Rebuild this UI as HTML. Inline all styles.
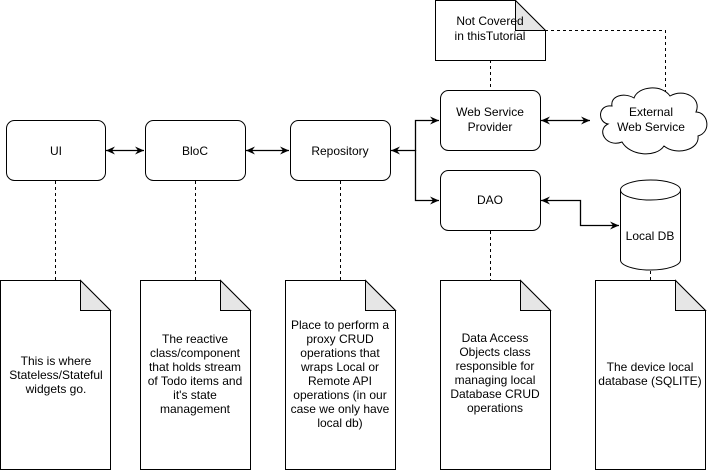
<!DOCTYPE html>
<html><head><style>body{margin:0;background:#fff}svg{display:block}text{font-family:"Liberation Sans",sans-serif;font-size:12px;fill:#000}</style></head><body>
<svg width="711" height="471" viewBox="0 0 711 471">
<defs><marker id="a" markerWidth="10" markerHeight="10" refX="9" refY="5" orient="auto-start-reverse" markerUnits="userSpaceOnUse"><path d="M0,1 L9,5 L0,9 L3,5 Z" fill="#000"/></marker></defs>
<g fill="#fff" stroke="#000" stroke-width="1">
<rect x="6.5" y="120.5" width="99" height="60" rx="8"/>
<rect x="145.5" y="120.5" width="100" height="60" rx="8"/>
<rect x="290.5" y="120.5" width="100" height="60" rx="8"/>
<rect x="440.5" y="90.5" width="100" height="60" rx="8"/>
<rect x="440.5" y="170.5" width="100" height="60" rx="8"/>
</g>
<g stroke="#000" stroke-dasharray="3,3" fill="none">
<path d="M55.5,181 V280 M195.5,181 V280 M340.5,181 V280 M490.5,231 V280 M650.5,271 V280 M490.5,60 V90 M545,30.5 H665.5 V93"/>
</g>
<g stroke="#000" fill="none" stroke-width="1.3">
<path d="M106,150.5 H144" marker-start="url(#a)" marker-end="url(#a)"/>
<path d="M246,150.5 H289" marker-start="url(#a)" marker-end="url(#a)"/>
<path d="M391,150.5 H415.5 V120.5 H439" marker-start="url(#a)" marker-end="url(#a)"/>
<path d="M415.5,150 V200.5 H439" marker-end="url(#a)"/>
<path d="M541,120.5 H590" marker-start="url(#a)" marker-end="url(#a)"/>
<path d="M541,200.5 H580.5 V225.5 H619" marker-start="url(#a)" marker-end="url(#a)"/>
</g>
<path d="M612,106 C598,104 597,122 608,124 C596,130 606,148 622,142 C630,156 656,158 664,146 C676,156 700,150 698,136 C712,132 708,112 696,112 C702,98 684,88 670,96 C662,84 638,86 634,98 C624,92 610,96 612,106 Z" fill="#fff" stroke="#000"/>
<g fill="#fff" stroke="#000">
<path d="M620.5,190 V260 A30,10 0 0 0 680.5,260 V190"/>
<ellipse cx="650.5" cy="190" rx="30" ry="10"/>
</g>
<g stroke="#000" fill="#fff">
<path d="M435.5,0.5 H515.5 L545.5,30.5 V60.5 H435.5 Z"/><path d="M515.5,0.5 V30.5 H545.5 Z" fill="#e6e6e6"/>
<path d="M0.5,280.5 H80.5 L110.5,310.5 V469.5 H0.5 Z"/><path d="M80.5,280.5 V310.5 H110.5 Z" fill="#e6e6e6"/>
<path d="M140.5,280.5 H220.5 L250.5,310.5 V469.5 H140.5 Z"/><path d="M220.5,280.5 V310.5 H250.5 Z" fill="#e6e6e6"/>
<path d="M285.5,280.5 H365.5 L395.5,310.5 V469.5 H285.5 Z"/><path d="M365.5,280.5 V310.5 H395.5 Z" fill="#e6e6e6"/>
<path d="M440.5,280.5 H520.5 L550.5,310.5 V469.5 H440.5 Z"/><path d="M520.5,280.5 V310.5 H550.5 Z" fill="#e6e6e6"/>
<path d="M595.5,280.5 H675.5 L705.5,310.5 V469.5 H595.5 Z"/><path d="M675.5,280.5 V310.5 H705.5 Z" fill="#e6e6e6"/>
</g>
<g text-anchor="middle">
<text x="56" y="155">UI</text>
<text x="195" y="155">BloC</text>
<text x="340" y="155">Repository</text>
<text x="490" y="116">Web Service</text><text x="490" y="131">Provider</text>
<text x="490" y="204">DAO</text>
<text x="651" y="116">External</text><text x="651" y="131">Web Service</text>
<text x="650" y="240">Local DB</text>
<text x="490" y="25">Not Covered</text><text x="490" y="40">in thisTutorial</text>
<text x="56" y="365">This is where</text><text x="56" y="379">Stateless/Stateful</text><text x="56" y="393">widgets go.</text>
<text x="195" y="343">The reactive</text><text x="195" y="357">class/component</text><text x="195" y="371">that holds stream</text><text x="195" y="385">of Todo items and</text><text x="195" y="399">it's state</text><text x="195" y="413">management</text>
<text x="340" y="329">Place to perform a</text><text x="340" y="343">proxy CRUD</text><text x="340" y="357">operations that</text><text x="340" y="371">wraps Local or</text><text x="340" y="385">Remote API</text><text x="340" y="399">operations (in our</text><text x="340" y="413">case we only have</text><text x="340" y="427">local db)</text>
<text x="495" y="342">Data Access</text><text x="495" y="356">Objects class</text><text x="495" y="370">responsible for</text><text x="495" y="384">managing local</text><text x="495" y="398">Database CRUD</text><text x="495" y="412">operations</text>
<text x="650" y="371">The device local</text><text x="650" y="385">database (SQLITE)</text>
</g>
</svg>
</body></html>
